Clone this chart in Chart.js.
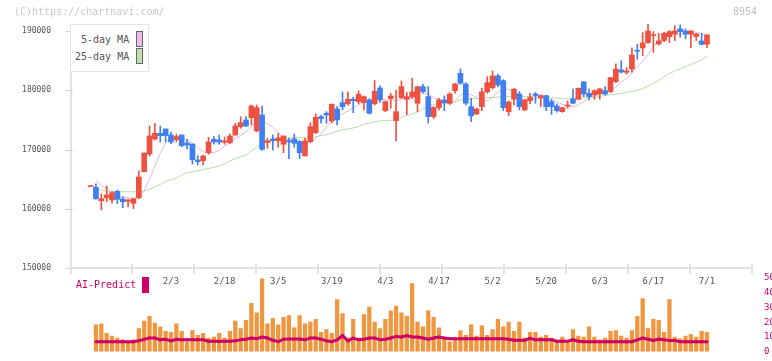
<!DOCTYPE html>
<html><head><meta charset="utf-8">
<script src="https://cdn.jsdelivr.net/npm/chart.js@4.4.1/dist/chart.umd.min.js"></script>
<style>
html,body{margin:0;padding:0;background:#fff;}
#wrap{position:relative;width:772px;height:361px;overflow:hidden;font-family:'DejaVu Sans Mono',monospace;}
canvas{position:absolute;left:0;top:0;}
.t{position:absolute;white-space:nowrap;line-height:1;}
.sw{position:absolute;box-sizing:border-box;border:1px solid #666;width:7px;height:16px;}
</style></head><body>
<div id="wrap">
<canvas id="main" width="772" height="361"></canvas>
<canvas id="vol" width="772" height="361"></canvas>
<div class="t" style="left:14px;top:7px;font-size:10px;color:#c8c8c8">(C)https://chartnavi.com/</div>
<div class="t" style="right:15px;top:7px;font-size:10px;color:#c0c0c0">8954</div>
<div style="position:absolute;left:70px;top:24px;width:79px;height:48px;box-sizing:border-box;border:1px solid #e2e2e2;background:#fff"></div>
<div class="t" style="left:81px;top:35px;font-size:10px;color:#555">5-day MA</div>
<div class="t" style="left:75px;top:52px;font-size:10px;color:#555">25-day MA</div>
<div class="sw" style="left:136px;top:31px;background:#ecbcec"></div>
<div class="sw" style="left:136px;top:48px;background:#c0e0b0"></div>
<div class="t" style="left:76px;top:280px;font-size:10px;color:#cc0066">AI-Predict</div>
<div style="position:absolute;left:142px;top:277px;width:7px;height:16px;background:#cc0066"></div>
</div>
<script>
// ---- data ----
const dateLabels = ['2/3','2/18','3/5','3/19','4/3','4/17','5/2','5/20','6/3','6/17','7/1'];
const dateIdx = [15,25,35,45,55,65,75,85,95,105,115];
const yTicks = [150000,160000,170000,180000,190000];
const volTicks = [0,10,20,30,40,50];

const openP = [
163750,163630,161370,161870,161490,162950,161650,161270,160930,161870,
166270,169250,171790,172750,173480,172460,171670,172460,171110,170940,
168240,168120,169470,171740,171620,171230,171170,172460,173870,175000,
175380,173140,175840,171170,171790,171500,170890,171500,171790,171330,
168920,171330,172850,175560,176130,174830,176860,177920,177750,178490,
178090,177920,178380,177750,180400,176570,178600,174880,178760,178490,
178940,177820,180620,178940,175560,177080,178380,177820,179950,182880,
181080,177250,176010,177250,179730,180450,182430,181640,176400,178490,
179390,176690,178260,179390,178770,179110,178090,177360,176400,177360,
178550,178490,181420,179500,179220,179390,179950,179780,181470,183440,
183050,183610,186770,187160,188060,189240,187830,188400,189070,189520,
190370,190030,189470,189070,188340,187780];
const closeP = [
163850,161700,161700,162330,162720,161600,161200,161490,161700,165370,
169420,172300,172750,172350,172350,171280,172180,170660,170770,168290,
167950,168920,171280,171280,171280,171450,172290,173980,174540,173980,
177360,177080,170040,171500,171500,171960,172290,171280,171060,169470,
171450,173870,175450,175220,175840,177650,175000,177250,178490,178260,
179340,178940,176130,179850,178380,178090,179050,176400,180620,178940,
179730,180620,179790,175560,177080,178380,177920,179390,181080,181190,
177820,175670,176860,179730,181300,182430,180910,177080,178040,180180,
177250,178380,178830,179110,179110,177250,177250,176570,177080,177530,
177820,180350,179390,178940,179950,180230,179390,182140,183610,183100,
183270,185980,186600,188000,190030,189350,188340,189630,189910,190030,
189910,189470,190030,189520,187780,189350];
const highP = [
163850,164200,162500,163850,162890,163170,162040,161650,161700,166380,
169420,173980,174440,173980,173480,172970,172580,172460,171740,170940,
168970,169080,172070,172180,172460,172120,172630,174440,175550,175550,
177530,177530,177360,171900,172460,172750,172290,171900,172630,171500,
171900,174540,176010,175840,176400,177700,177250,179730,179730,178830,
179900,179050,178600,181640,180740,178200,179500,180060,181590,179620,
182040,180700,181030,180620,177250,178660,179050,179620,181200,183610,
181300,178660,177000,180350,182310,183270,182710,181800,178200,180350,
179790,178500,179500,179670,179280,179200,178490,177700,177100,178200,
180230,180400,181500,180230,180060,180300,180620,182200,184460,185010,
183830,187160,187780,189740,191210,189910,189630,189800,190090,190930,
191040,190370,190100,189630,189630,189400];
const lowP = [
163750,161600,159800,161200,160930,160870,160190,160350,160020,161700,
166270,168900,171620,171280,171280,170990,171280,170500,170100,167570,
167400,167400,169200,170890,170890,170890,171000,172400,173600,173870,
174150,172970,169870,170210,169930,170390,169470,168460,170390,168460,
168920,171170,172700,174440,174440,174500,174150,176690,177500,176230,
177700,176690,176000,177500,177920,176400,176970,171450,178600,175900,
178600,176400,179500,174440,175220,176700,176570,177600,179500,181030,
177500,174710,175900,176570,179500,180200,180620,176570,175730,177530,
176690,176570,177700,177820,177250,176570,175900,176300,176300,177000,
177700,178400,178940,178380,178490,178490,179200,179600,181300,182900,
182710,183050,185250,185860,187900,186430,187660,188200,188060,188400,
188960,188680,187210,188400,187660,187210];
const ma5 = [
null,164860,163900,163460,162890,162240,161960,161890,161800,162000,
163060,164950,167190,169380,171140,172020,172200,171970,171610,171050,
170310,169650,169380,169490,169840,170490,171180,171790,172390,172980,
173840,174910,175000,174300,173750,172960,171940,171590,171670,171420,
171160,171270,171850,172680,173730,174990,175720,176010,176520,177090,
177500,178070,178350,178370,178520,178410,178290,178330,178430,178570,
178790,179110,179600,179440,178750,178430,178020,177710,178220,179180,
179540,179260,178780,178390,178270,178740,179730,180270,180120,179840,
179210,178440,178370,178650,178650,178540,178430,178090,177660,177300,
177200,177560,178150,178620,179050,179530,179680,179860,180600,181380,
182000,182960,184070,184950,186090,187390,188230,188770,189260,189450,
189510,189680,189830,189830,189570,189290];
const ma25 = [
null,163300,163100,162950,162900,162890,162880,162880,162880,162890,
162950,163300,163700,164100,164600,164950,165200,165700,166100,166250,
166400,166600,166800,167000,167200,167600,168100,168500,168800,169100,
169800,170400,170900,171300,171600,171800,171950,172000,172000,172000,
172000,172000,172150,172350,172550,172750,173100,173300,173480,173650,
173850,174300,174500,174700,174830,174900,174950,175050,175400,175750,
176000,176300,176900,177300,177550,177700,177820,177920,178100,178350,
178450,178550,178620,178700,178770,178800,178850,178900,178940,179000,
179000,178980,178950,178940,178880,178800,178750,178680,178580,178560,
178600,178650,178720,178800,178840,178950,179100,179250,179380,179500,
179650,179800,180000,180300,180700,181200,181700,182300,182800,183300,
183650,184000,184400,184700,185200,185750];
const volume = [
null,18.2,18.8,12.4,10.5,9.2,8.0,6.7,8.0,15.6,
20.7,23.9,19.4,16.9,13.7,13.1,18.8,13.7,6.7,14.3,
11.1,12.4,9.2,9.9,12.4,9.2,13.7,20.7,15.6,21.3,
32.8,26.4,49.4,18.8,22.6,18.2,23.2,24.5,16.2,24.5,
18.8,20.1,22.0,13.1,15.0,12.4,35.4,25.8,9.2,22.0,
9.2,25.2,30.3,20.1,15.6,22.0,27.7,30.9,26.4,23.9,
46.2,20.1,16.9,27.7,23.2,16.2,9.2,6.7,9.2,14.3,
11.1,18.2,10.5,17.5,11.1,15.0,22.0,16.9,20.1,13.7,
20.1,9.2,13.1,13.1,9.9,11.1,9.2,6.7,9.9,6.7,
15.0,10.5,9.9,16.9,9.9,8.0,9.2,13.7,14.3,10.5,
9.2,14.3,23.9,36.0,15.6,22.0,21.3,13.1,35.4,9.9,
8.6,10.5,11.8,9.9,13.7,13.1];
const aiPredict = [
null,6.7,6.7,6.7,6.7,6.7,6.7,6.7,6.7,7.3,
8.4,9.2,9.2,8.0,8.4,7.3,8.4,8.0,8.0,8.0,
8.0,8.0,7.0,7.0,7.0,7.0,7.0,7.3,8.0,8.4,
9.2,8.8,9.9,9.2,7.7,6.7,8.4,8.6,8.6,8.6,
8.0,9.2,9.2,8.4,7.3,6.7,8.0,10.9,7.3,9.2,
8.0,8.4,9.2,9.2,8.0,8.4,9.2,10.3,9.9,10.9,
9.9,9.9,9.2,8.4,9.2,9.9,9.2,8.8,8.8,8.8,
8.8,8.8,8.8,8.8,8.8,8.8,8.8,8.8,8.4,7.7,
7.7,7.7,9.0,8.0,8.0,8.0,8.0,7.1,7.1,7.1,
8.0,7.1,6.7,6.7,6.7,6.7,6.7,6.7,6.7,6.7,
6.7,6.7,8.0,9.2,8.4,7.5,8.6,8.0,7.5,7.5,
6.7,6.7,6.7,6.7,6.7,6.7];

// ---- build ----
const X_MIN = -3.84, X_MAX = 123.4;
const FONT = 'DejaVu Sans Mono';
const RED = '#ef5140', BLUE = '#3f7ff0';
const idx = closeP.map((_, i) => i);
const candleColors = idx.map(i => closeP[i] >= openP[i] ? RED : BLUE);
const bodyData = idx.map(i => ({x: i, y: [openP[i], closeP[i]]}));
const wickData = idx.map(i => ({x: i, y: [lowP[i], highP[i]]}));
const pts = arr => arr.map((v, i) => ({x: i, y: v}));

const axisPlugin = {
  id: 'axes',
  afterDraw(chart) {
    const {ctx, chartArea: a, scales: {x, y}} = chart;
    ctx.save();
    ctx.strokeStyle = '#e2e2e2'; ctx.lineWidth = 2;
    ctx.beginPath();
    ctx.moveTo(a.left + 1, a.top); ctx.lineTo(a.left + 1, a.bottom + 1);
    ctx.moveTo(a.left, a.bottom); ctx.lineTo(a.right, a.bottom);
    ctx.stroke();
    ctx.lineWidth = 1; ctx.strokeStyle = '#d4d4d4';
    yTicks.forEach(v => {
      const py = Math.round(y.getPixelForValue(v)) + 0.5;
      ctx.beginPath(); ctx.moveTo(a.left - 5, py); ctx.lineTo(a.left + 3, py); ctx.stroke();
    });
    ctx.lineWidth = 2; ctx.strokeStyle = '#e2e2e2';
    for (let k = 0; k <= 11; k++) {
      const px = Math.round(a.left + k * (a.right - a.left) / 11) + (k === 0 ? 1 : 0);
      ctx.beginPath(); ctx.moveTo(px, a.bottom - 4); ctx.lineTo(px, a.bottom + 6); ctx.stroke();
    }
    ctx.fillStyle = '#555'; ctx.font = '9px "' + FONT + '"';
    ctx.textAlign = 'center'; ctx.textBaseline = 'middle';
    dateIdx.forEach((d, j) => ctx.fillText(dateLabels[j], x.getPixelForValue(d), a.bottom + 14));
    ctx.restore();
  }
};

new Chart(document.getElementById('main'), {
  type: 'bar',
  data: {datasets: [
    {type: 'line', data: pts(ma5), borderColor: '#e6b4e6', borderWidth: 1, pointRadius: 0, order: 4},
    {type: 'line', data: pts(ma25), borderColor: '#b6dca6', borderWidth: 1, pointRadius: 0, order: 3},
    {type: 'bar', data: wickData, backgroundColor: candleColors, barThickness: 1, grouped: false, order: 2},
    {type: 'bar', data: bodyData, backgroundColor: candleColors, barThickness: 5, grouped: false, minBarLength: 1, order: 1}
  ]},
  options: {
    responsive: false, animation: false, devicePixelRatio: 1,
    layout: {padding: {top: 24, right: 20, bottom: 93, left: 0}},
    plugins: {legend: {display: false}, tooltip: {enabled: false}},
    scales: {
      x: {type: 'linear', min: X_MIN, max: X_MAX, offset: false, display: false},
      y: {type: 'linear', position: 'left', min: 150000, max: 191200,
        afterFit: s => { s.width = 70; },
        afterBuildTicks: s => { s.ticks = yTicks.map(v => ({value: v})); },
        grid: {display: false}, border: {display: false},
        ticks: {padding: 11, color: '#555', font: {size: 8, family: FONT}, callback: v => String(v)}}
    }
  },
  plugins: [axisPlugin]
});

new Chart(document.getElementById('vol'), {
  type: 'bar',
  data: {datasets: [
    {type: 'line', data: pts(aiPredict), borderColor: '#cc0066', borderWidth: 3, pointRadius: 1.5,
      pointBackgroundColor: '#cc0066', pointBorderWidth: 0, order: 1},
    {type: 'bar', data: pts(volume), backgroundColor: '#f0963f', barThickness: 3.6, grouped: false, order: 2}
  ]},
  options: {
    responsive: false, animation: false, devicePixelRatio: 1,
    layout: {padding: {top: 278, right: 0, bottom: 4, left: 70}},
    plugins: {legend: {display: false}, tooltip: {enabled: false}},
    scales: {
      x: {type: 'linear', min: X_MIN, max: X_MAX, offset: false, display: false},
      y: {type: 'linear', position: 'right', min: 0, max: 50,
        afterFit: s => { s.width = 20; },
        afterBuildTicks: s => { s.ticks = volTicks.map(v => ({value: v})); },
        grid: {display: false}, border: {display: false},
        ticks: {padding: 4, color: '#cc0066', font: {size: 9, family: FONT}, callback: v => String(v)}}
    }
  }
});
</script>
</body></html>
